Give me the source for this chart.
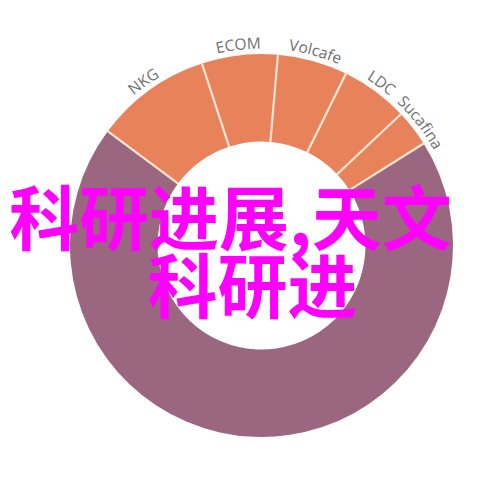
<!DOCTYPE html>
<html>
<head>
<meta charset="utf-8">
<script src="https://cdn.jsdelivr.net/npm/d3@7"></script>
<style>
  body { margin: 0; background: #fff; }
</style>
</head>
<body>
<div id="chart"></div>
<script>
// market share of green coffee traders (percent)
let categories = ['NKG', 'ECOM', 'Volcafe', 'LDC', 'Sucafina', 'Others']
let shares = [9.8, 6.4, 5.9, 5.7, 3.1, 69.1]
let labels = ['NKG', 'ECOM', 'Volcafe', 'LDC', 'Sucafina', '']
let overlayLines = ['科研进展,天文', '科研进']

let width = 504
let height = 483
let cx = 261.5
let cy = 245.5
let outerR = 191.5
let innerR = 104
let labelR = 197

let colorScale = d3
  .scaleOrdinal()
  .domain(categories)
  .range(['#e8825b', '#e8825b', '#e8825b', '#e8825b', '#e8825b', '#9b6680'])

let startAngle = (-53.4 / 180) * Math.PI

let pie = d3
  .pie()
  .sort(null)
  .value(d => d.value)
  .startAngle(startAngle)
  .endAngle(startAngle + Math.PI * 2)

let arc = d3
  .arc()
  .innerRadius(innerR)
  .outerRadius(outerR)

let datapoints = categories.map((c, i) => ({
  name: c,
  value: shares[i],
  label: labels[i]
}))

let svg = d3
  .select('#chart')
  .append('svg')
  .attr('width', width)
  .attr('height', height)

svg
  .append('rect')
  .attr('width', width)
  .attr('height', height)
  .attr('fill', '#fff')

let holder = svg.append('g').attr('transform', `translate(${cx},${cy})`)

let slices = pie(datapoints)

holder
  .selectAll('.slice')
  .data(slices)
  .enter()
  .append('path')
  .attr('class', 'slice')
  .attr('d', arc)
  .attr('fill', d => colorScale(d.data.name))

// pale separators between slices
holder
  .selectAll('.separator')
  .data(slices)
  .enter()
  .append('line')
  .attr('class', 'separator')
  .attr('x1', d => d3.pointRadial(d.startAngle, innerR - 1)[0])
  .attr('y1', d => d3.pointRadial(d.startAngle, innerR - 1)[1])
  .attr('x2', d => d3.pointRadial(d.startAngle, outerR + 1)[0])
  .attr('y2', d => d3.pointRadial(d.startAngle, outerR + 1)[1])
  .attr('stroke', '#fce6d2')
  .attr('stroke-width', 2.2)

// curved label paths, centred on each slice
let defs = svg.append('defs')
slices.forEach((d, i) => {
  let mid = (d.startAngle + d.endAngle) / 2
  let p = d3.path()
  p.arc(0, 0, labelR, mid - 0.6 - Math.PI / 2, mid + 0.6 - Math.PI / 2)
  defs
    .append('path')
    .attr('id', 'label-path-' + i)
    .attr('d', p.toString())
})

holder
  .selectAll('.category-title')
  .data(slices.filter(d => d.data.label))
  .enter()
  .append('text')
  .attr('class', 'category-title')
  .attr('font-family', 'Open Sans, sans-serif')
  .attr('font-size', 15.5)
  .attr('fill', '#6f6f6f')
  .append('textPath')
  .attr('href', d => '#label-path-' + d.index)
  .attr('startOffset', '50%')
  .attr('text-anchor', 'middle')
  .text(d => d.data.label)

// magenta overlay text
let overlayX = [230.5, 252.5]
let overlayY = [214, 282]

svg
  .selectAll('.overlay')
  .data(overlayLines)
  .enter()
  .append('text')
  .attr('class', 'overlay')
  .attr('x', (d, i) => overlayX[i])
  .attr('y', (d, i) => overlayY[i])
  .attr('text-anchor', 'middle')
  .attr('dominant-baseline', 'central')
  .attr('font-family', 'Noto Sans CJK SC')
  .attr('font-weight', 'bold')
  .attr('font-size', 70)
  .attr('fill', '#ff00ff')
  .text(d => d)
</script>
</body>
</html>
